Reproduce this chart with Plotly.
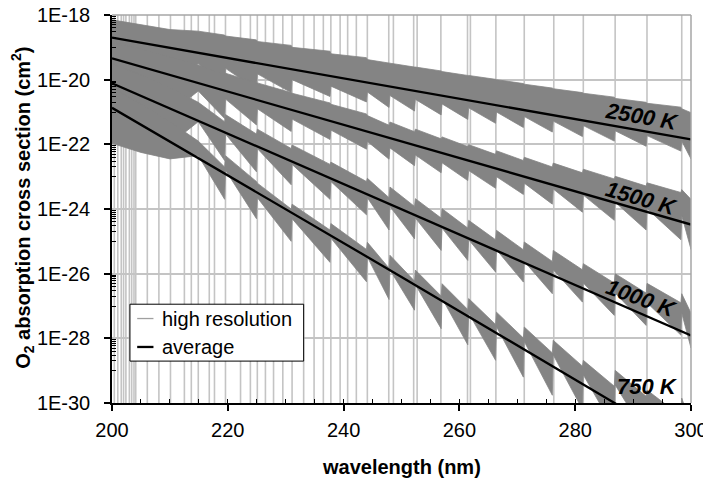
import plotly.graph_objects as go

# wavelengths (nm) where the high-resolution spectrum drops out (light vertical lines)
gap_wl = [200.4, 201.0, 201.6, 202.0, 202.4, 203.0, 203.4, 203.8, 204.1, 206.1, 208.1,
          210.1, 212.5, 213.7, 214.9, 216.8, 217.7, 219.6, 222.2, 223.9, 225.1, 226.5,
          227.9, 229.5, 231.1, 233.1, 234.9, 236.5, 237.8, 239.4, 240.7, 242.2, 244.1,
          247.8, 248.6, 252.1, 252.7, 256.8, 261.4, 261.9, 266.3, 271.2, 276.3, 281.4,
          286.9, 292.4, 298.4]

# band heads of the Schumann-Runge teeth (nm)
heads = [214.9, 219.6, 225.1, 231.1, 237.8, 244.1, 248.0, 252.4, 257.0, 261.6,
         266.4, 271.2, 276.2, 281.4, 286.9, 292.4, 298.4]

temps = ["2500 K", "1500 K", "1000 K", "750 K"]

# smooth part of the high-res envelope before the first head (log10 cm2)
pre_wl = [200, 205, 210]
pre_hi = {"2500 K": [-18.15, -18.30, -18.45], "1500 K": [-18.85, -19.05, -19.30],
          "1000 K": [-19.50, -19.85, -20.25], "750 K": [-20.25, -20.75, -21.30]}
pre_lo = {"2500 K": [-19.75, -20.00, -20.20], "1500 K": [-20.45, -20.75, -21.05],
          "1000 K": [-21.20, -21.60, -22.00], "750 K": [-21.97, -22.25, -22.45]}

# tooth peak at each head and deepest value at the end of the tooth (log10 cm2)
peak = {
    "2500 K": [-18.50, -18.65, -18.82, -19.00, -19.20, -19.38, -19.49, -19.61, -19.75,
               -19.87, -20.00, -20.14, -20.28, -20.42, -20.58, -20.73, -20.90],
    "1500 K": [-19.55, -19.80, -20.10, -20.42, -20.76, -21.11, -21.31, -21.53, -21.77,
               -22.01, -22.20, -22.40, -22.58, -22.77, -22.99, -23.19, -23.40],
    "1000 K": [-20.70, -21.08, -21.53, -22.02, -22.55, -23.05, -23.32, -23.68, -23.99,
               -24.35, -24.66, -25.02, -25.28, -25.69, -26.00, -26.30, -26.62],
    "750 K": [-21.90, -22.35, -23.20, -23.85, -24.45, -25.03, -25.43, -25.89, -26.31,
              -26.77, -27.19, -27.65, -28.06, -28.68, -28.99, -29.60, -29.85],
}
trough = {
    "2500 K": [-20.25, -20.30, -20.40, -20.52, -20.69, -20.86, -20.97, -21.09, -21.23,
               -21.35, -21.48, -21.62, -21.76, -21.90, -22.06, -22.21, -22.45],
    "1500 K": [-21.20, -21.40, -21.60, -21.85, -22.15, -22.46, -22.66, -22.88, -23.12,
               -23.36, -23.55, -23.85, -24.10, -24.35, -24.65, -24.95, -25.25],
    "1000 K": [-22.50, -22.85, -23.25, -23.70, -24.18, -24.65, -24.92, -25.28, -25.59,
               -25.95, -26.26, -26.62, -26.88, -27.29, -27.60, -27.90, -28.30],
    "750 K": [-23.70, -24.30, -25.00, -25.65, -26.25, -26.80, -27.13, -27.70, -28.20,
              -28.68, -29.20, -29.76, -30.20, -30.80, -31.00, -31.20, -31.40],
}
# drop of the tooth top across a tooth, and band thickness at the head (decades)
top_drop = {"2500 K": 0.12, "1500 K": 0.30, "1000 K": 0.60, "750 K": 0.80}
head_thick = {"2500 K": 1.00, "1500 K": 0.80, "1000 K": 0.60, "750 K": 0.45}

# averaged cross sections (log10 cm2)
avg_wl = [200, 250, 300]
avg = {"2500 K": [-18.70, -20.27, -21.85], "1500 K": [-19.34, -21.90, -24.48],
       "1000 K": [-20.11, -24.00, -27.91], "750 K": [-20.87, -26.10, -31.40]}

# label placement (nm, log10) and slope
lab_pos = {"2500 K": (291.5, -21.15, 10), "1500 K": (291.5, -23.67, 16),
           "1000 K": (291.5, -26.76, 20), "750 K": (292.5, -29.50, 0)}

GRAY = "#848484"
fig = go.Figure()

gx, gy = [], []
for w in gap_wl:
    gx += [w, w, None]
    gy += [1e-30, 1e-18, None]
fig.add_trace(go.Scatter(x=gx, y=gy, mode="lines", line=dict(color="#c4c4c4", width=1.6),
                         hoverinfo="skip", showlegend=False))

for t in temps:
    ux, uy = list(pre_wl), list(pre_hi[t])
    lx, ly = list(pre_wl), list(pre_lo[t])
    for i, h in enumerate(heads):
        end = heads[i + 1] - 0.15 if i + 1 < len(heads) else 300
        ux += [h, end]
        uy += [peak[t][i], peak[t][i] - top_drop[t]]
        lx += [h, end]
        ly += [peak[t][i] - head_thick[t], trough[t][i]]
    px = ux + lx[::-1]
    py = [10 ** v for v in uy + ly[::-1]]
    fig.add_trace(go.Scatter(x=px, y=py, mode="lines", fill="toself", fillcolor=GRAY,
                             line=dict(color=GRAY, width=0.8), hoverinfo="skip",
                             showlegend=False))

for t in temps:
    fig.add_trace(go.Scatter(x=avg_wl, y=[10 ** v for v in avg[t]], mode="lines",
                             line=dict(color="black", width=2.3), showlegend=False))

for t in temps:
    x, y, ang = lab_pos[t]
    fig.add_annotation(x=x, y=y, text="<b><i>%s</i></b>" % t, showarrow=False,
                       textangle=ang, font=dict(size=22, color="black"))

# hand-made legend
fig.add_shape(type="rect", xref="paper", yref="paper", x0=0.031, x1=0.331, y0=0.108, y1=0.2546,
              line=dict(color="black", width=1), fillcolor="white", layer="above")
fig.add_shape(type="line", xref="paper", yref="paper", x0=0.0435, x1=0.0716, y0=0.2177, y1=0.2177,
              line=dict(color="#a0a0a0", width=1.3), layer="above")
fig.add_shape(type="line", xref="paper", yref="paper", x0=0.0435, x1=0.0716, y0=0.1444, y1=0.1444,
              line=dict(color="black", width=2.3), layer="above")
for txt, yy in [("high resolution", 0.2177), ("average", 0.1444)]:
    fig.add_annotation(xref="paper", yref="paper", x=0.0837, y=yy, text=txt, showarrow=False,
                       xanchor="left", yanchor="middle", font=dict(size=20, color="black"))

# plot-area top/right border
fig.add_shape(type="line", xref="paper", yref="paper", x0=0, x1=1, y0=1, y1=1,
              line=dict(color="#a6a6a6", width=1.5), layer="above")
fig.add_shape(type="line", xref="paper", yref="paper", x0=1, x1=1, y0=0, y1=1,
              line=dict(color="#a6a6a6", width=1.5), layer="above")

fig.add_annotation(xref="paper", yref="paper", x=-0.1544, y=0.502, textangle=-90,
                   xanchor="center", yanchor="middle",
                   text="<b>O<sub>2</sub> absorption cross section (cm<sup>2</sup>)</b>",
                   showarrow=False, font=dict(size=20, color="black"))
fig.add_annotation(xref="paper", yref="paper", x=0.5004, y=-0.166, xanchor="center",
                   yanchor="middle", text="<b>wavelength (nm)</b>", showarrow=False,
                   font=dict(size=20, color="black"))

ytick_v = [1e-30, 1e-28, 1e-26, 1e-24, 1e-22, 1e-20, 1e-18]
ytick_t = ["1E-30", "1E-28", "1E-26", "1E-24", "1E-22", "1E-20", "1E-18"]
yminor = [b * 10 * k for b in ytick_v[:-1] for k in range(1, 10)]

fig.update_layout(
    width=703, height=473, margin=dict(l=103.5, r=20, t=7, b=78.3, autoexpand=False),
    paper_bgcolor="white", plot_bgcolor="white",
    font=dict(family="Liberation Sans, Arial, sans-serif", size=20, color="black"),
    showlegend=False,
    xaxis=dict(range=[200, 300], tickvals=[200, 220, 240, 260, 280, 300], showgrid=False,
               showline=True, linecolor="black", linewidth=1.5, ticks="outside", ticklen=6,
               tickwidth=1.5, tickcolor="black", ticklabelstandoff=2, zeroline=False,
               automargin=False, ticklabeloverflow="allow",
               minor=dict(tickmode="array", tickvals=list(range(205, 300, 5)), ticks="inside",
                          ticklen=4, tickcolor="black", tickwidth=1.2, showgrid=False)),
    yaxis=dict(type="log", range=[-30, -18], tickmode="array", tickvals=ytick_v, ticktext=ytick_t,
               showgrid=True, gridcolor="#c4c4c4", gridwidth=1.5, showline=True, linecolor="black",
               linewidth=1.5, ticks="outside", ticklen=6, tickwidth=1.5, tickcolor="black",
               ticklabelstandoff=10, zeroline=False, automargin=False, ticklabeloverflow="allow",
               minor=dict(tickmode="array", tickvals=yminor, ticks="inside", ticklen=4,
                          tickcolor="black", tickwidth=1, showgrid=False)),
)

fig.write_html("out.html")
